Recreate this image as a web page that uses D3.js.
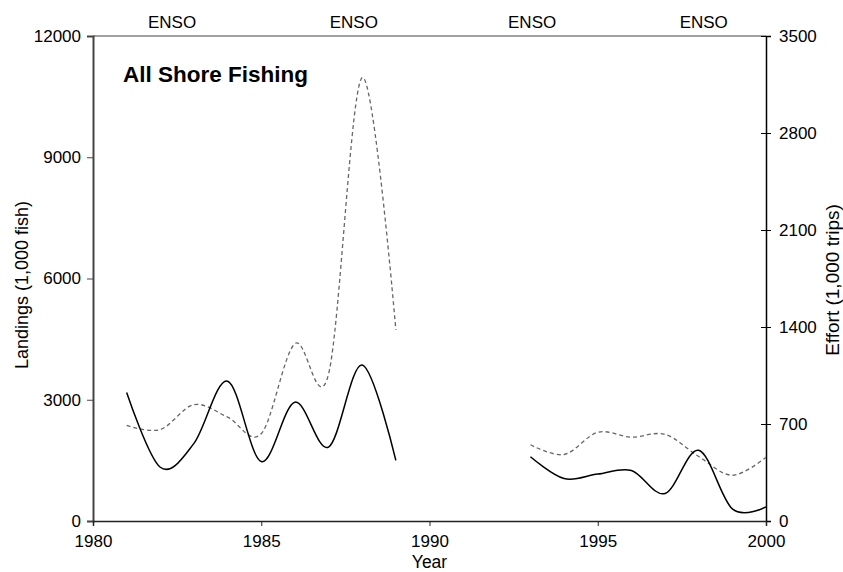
<!DOCTYPE html>
<html><head><meta charset="utf-8">
<script src="https://cdn.jsdelivr.net/npm/d3@7"></script>
<style>
body{margin:0;background:#fff;}
text{font-family:"Liberation Sans",Arial,sans-serif;fill:#000;}
</style></head>
<body>
<svg id="chart" width="843" height="572"></svg>
<script>
// ---- data ----
const years = [1981,1982,1983,1984,1985,1986,1987,1988,1989,1990,1991,1992,1993,1994,1995,1996,1997,1998,1999,2000];
const landings = [3180,1330,1920,3460,1470,2940,1830,3860,1500,null,null,null,1590,1050,1160,1250,680,1750,300,350];
const effort   = [690,660,840,750,630,1280,1060,3200,1380,null,null,null,550,480,640,605,625,465,330,460];
const xTicks = [1980,1985,1990,1995,2000];
const leftTicks = [0,3000,6000,9000,12000];
const rightTicks = [0,700,1400,2100,2800,3500];
const ensoYears = [1982.35,1987.75,1993.05,1998.15];
const ensoLabel = "ENSO";
const title = "All Shore Fishing";
const xTitle = "Year";
const yLeftTitle = "Landings (1,000 fish)";
const yRightTitle = "Effort  (1,000 trips)";

// ---- layout ----
const L = 93, R = 766, T = 36, B = 521;
const svg = d3.select("#chart");
const x = d3.scaleLinear().domain([1980,2000]).range([L,R]);
const yL = d3.scaleLinear().domain([0,12000]).range([B,T]);
const yR = d3.scaleLinear().domain([0,3500]).range([B,T]);

// top frame line
svg.append("line").attr("x1",L).attr("x2",R).attr("y1",T).attr("y2",T)
  .attr("stroke","#808080").attr("stroke-width",1.5);

// left axis
const gL = svg.append("g").attr("transform",`translate(${L},0)`)
  .call(d3.axisLeft(yL).tickValues(leftTicks).tickSize(6).tickPadding(6).tickFormat(d3.format("d")));
gL.select(".domain").attr("stroke","#444").attr("stroke-width",2);
gL.selectAll(".tick line").attr("stroke","#444");
gL.selectAll("text").style("font-size","17px").attr("font-family",null);

// right axis
const gR = svg.append("g").attr("transform",`translate(${R},0)`)
  .call(d3.axisRight(yR).tickValues(rightTicks).tickSize(5).tickPadding(8).tickFormat(d3.format("d")));
gR.select(".domain").attr("stroke","#000").attr("stroke-width",1.5);
gR.selectAll(".tick line").attr("x1",-5).attr("stroke","#000");
gR.selectAll("text").style("font-size","17px").attr("font-family",null);

// bottom axis
const gB = svg.append("g").attr("transform",`translate(0,${B})`)
  .call(d3.axisBottom(x).tickValues(xTicks).tickSize(5).tickPadding(9).tickFormat(d3.format("d")));
gB.select(".domain").attr("stroke","#222").attr("stroke-width",1.5);
gB.selectAll(".tick line").attr("stroke","#222");
gB.selectAll("text").style("font-size","17px").attr("font-family",null);

// lines
const rows = years.map((yr,i)=>({yr, l:landings[i], e:effort[i]}));
const curve = d3.curveCardinal.tension(0);
const lineL = d3.line().defined(d=>d.l!=null).x(d=>x(d.yr)).y(d=>yL(d.l)).curve(curve);
const lineE = d3.line().defined(d=>d.e!=null).x(d=>x(d.yr)).y(d=>yR(d.e)).curve(curve);
svg.append("path").datum(rows).attr("d",lineE).attr("fill","none")
  .attr("stroke","#666").attr("stroke-width",1.3).attr("stroke-dasharray","4,3");
svg.append("path").datum(rows).attr("d",lineL).attr("fill","none")
  .attr("stroke","#000").attr("stroke-width",1.5);

// ENSO labels
svg.selectAll(".enso").data(ensoYears).enter().append("text")
  .attr("x",d=>x(d)).attr("y",28).attr("text-anchor","middle")
  .style("font-size","17px").text(ensoLabel);

// title
svg.append("text").attr("x",123).attr("y",82).style("font-size","22.5px")
  .style("font-weight","bold").text(title);

// axis titles
svg.append("text").attr("x",(L+R)/2).attr("y",568).attr("text-anchor","middle")
  .style("font-size","17.5px").text(xTitle);
svg.append("text").attr("transform","translate(28,285) rotate(-90)").attr("text-anchor","middle")
  .style("font-size","18px").text(yLeftTitle);
svg.append("text").attr("transform","translate(839,280) rotate(-90)").attr("text-anchor","middle")
  .style("font-size","19px").text(yRightTitle);
</script>
</body></html>
